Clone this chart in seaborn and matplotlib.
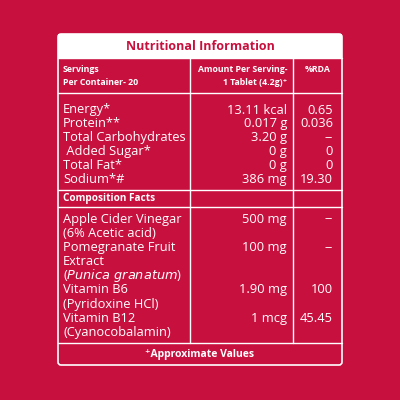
import matplotlib
matplotlib.use("Agg")
import matplotlib.pyplot as plt
import seaborn as sns
from matplotlib.patches import Rectangle, FancyBboxPatch

sns.set_style("white")
plt.rcParams['font.family'] = ['Open Sans', 'DejaVu Sans']

RED = "#C8103F"
title = "Nutritional Information"
header = ["Servings\nPer Container- 20", "Amount Per Serving-\n1 Tablet (4.2g)\u207a", "%RDA"]
nutrients = ["Energy*", "Protein**", "Total Carbohydrates", " Added Sugar*", "Total Fat*", "Sodium*#"]
amounts = ["13.11 kcal", "0.017 g", "3.20 g", "0 g", "0 g", "386 mg"]
rdas = ["0.65", "0.036", "--", "0", "0", "19.30"]
comp_title = "Composition Facts"
comp_names = [["Apple Cider Vinegar", "(6% Acetic acid)"],
              ["Pomegranate Fruit", "Extract", "($\\it{Punica\\ granatum}$)"],
              ["Vitamin B6", "(Pyridoxine HCl)"],
              ["Vitamin B12", "(Cyanocobalamin)"]]
comp_amounts = ["500 mg", "100 mg", "1.90 mg", "1 mcg"]
comp_rdas = ["--", "--", "100", "45.45"]
footer = "\u207aApproximate Values"

fig = plt.figure(figsize=(4, 4), dpi=100, facecolor=RED)
ax = fig.add_axes([0, 0, 1, 1])
ax.set_xlim(0, 400); ax.set_ylim(400, 0); ax.axis("off")
ax.set_facecolor(RED)

L, R, T, B = 58, 342, 34, 365
ax.add_patch(FancyBboxPatch((L, T), R - L, B - T, boxstyle="round,pad=0,rounding_size=3",
                            fc="none", ec="white", lw=1.2))
ax.add_patch(Rectangle((L, T), R - L, 24, fc="white", ec="none"))
ax.text((L + R) / 2, 46, title, color=RED, fontsize=9, fontweight="bold", ha="center", va="center")
for y in [58, 93, 190, 207, 343]:
    ax.plot([L, R], [y, y], color="white", lw=1)
for x in [190, 293]:
    ax.plot([x, x], [58, 343], color="white", lw=1)

hs = 6.3
ax.text(63, 76, header[0], color="white", fontsize=hs, fontweight="bold", va="center", ha="left", linespacing=1.5)
ax.text(287, 76, header[1], color="white", fontsize=hs, fontweight="bold", va="center", ha="right", linespacing=1.5, multialignment="right")
ax.text(318, 69, header[2], color="white", fontsize=hs, fontweight="bold", va="center", ha="center")

fs = 9.3
y0, dy = 110, 13.9
for i, (n, a, r) in enumerate(zip(nutrients, amounts, rdas)):
    y = y0 + i * dy
    ax.text(63, y, n, color="white", fontsize=fs, va="center")
    ax.text(287, y, a, color="white", fontsize=fs, va="center", ha="right")
    ax.text(333, y, r, color="white", fontsize=fs, va="center", ha="right")

ax.text(63, 198.5, comp_title, color="white", fontsize=7.2, fontweight="bold", va="center")

y = 219
for names, a, r in zip(comp_names, comp_amounts, comp_rdas):
    ax.text(287, y, a, color="white", fontsize=fs, va="center", ha="right")
    ax.text(333, y, r, color="white", fontsize=fs, va="center", ha="right")
    for n in names:
        ax.text(63, y, n, color="white", fontsize=fs, va="center")
        y += 14.2

ax.text((L + R) / 2, 354, footer, color="white", fontsize=7.5, fontweight="bold", ha="center", va="center")

fig.savefig("out.png", dpi=100, facecolor=RED)
